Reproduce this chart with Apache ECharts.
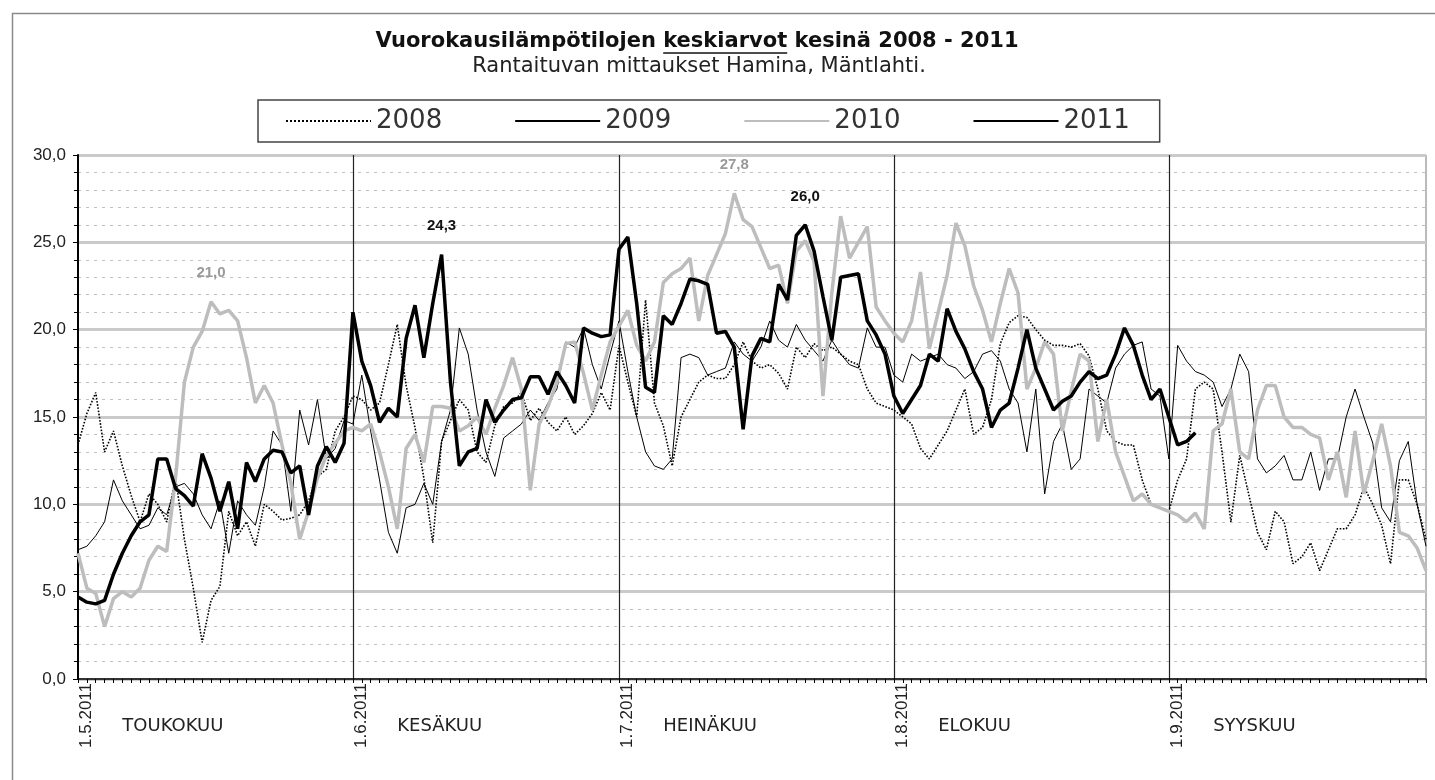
<!DOCTYPE html>
<html>
<head>
<meta charset="utf-8">
<title>Vuorokausilämpötilojen keskiarvot kesinä 2008 - 2011</title>
<script src="https://cdn.jsdelivr.net/npm/echarts@6/dist/echarts.min.js"></script>
<style>
  html, body { margin: 0; padding: 0; background: #fff; }
  #chart { width: 1435px; height: 780px; }
</style>
</head>
<body>
<div id="chart"></div>
<script>
// päivät 1.5. - 30.9. (kategoriat)
var monthNums = [5, 6, 7, 8, 9];
var monthLengths = [31, 30, 31, 31, 30];
var monthNames = ['TOUKOKUU', 'KESÄKUU', 'HEINÄKUU', 'ELOKUU', 'SYYSKUU'];
var yTicks = [0, 5, 10, 15, 20, 25, 30];

// vuorokauden keskilämpötilat, luettu kuvasta
var t2008 = [
  13.4, 15.2, 16.4, 13.0, 14.2, 12.2, 10.5, 9.0, 10.6, 10.0, 9.0, 11.5, 8.0, 5.2, 2.1, 4.5, 5.3, 9.6, 8.2, 9.0, 7.6, 10.0, 9.6, 9.1, 9.2, 9.4, 10.2, 11.6, 12.0, 14.2, 15.0,
  16.2, 16.0, 15.4, 15.8, 18.0, 20.3, 16.8, 14.4, 11.5, 7.8, 13.6, 14.8, 16.0, 15.4, 13.0, 12.4, 14.5, 15.6, 15.8, 16.4, 14.8, 15.5, 14.7, 14.2, 15.0, 14.0, 14.5, 15.2, 16.4, 15.4,
  19.1, 17.0, 15.0, 21.7, 15.8, 14.5, 12.2, 15.0, 16.0, 17.0, 17.4, 17.2, 17.2, 18.0, 19.3, 18.2, 17.8, 18.0, 17.5, 16.6, 19.0, 18.4, 19.2, 18.8, 19.0, 18.6, 18.2, 18.0, 16.6, 15.8, 15.6,
  15.4, 15.0, 14.6, 13.2, 12.6, 13.4, 14.2, 15.4, 16.6, 14.0, 14.4, 16.0, 19.2, 20.4, 20.8, 20.7, 20.0, 19.4, 19.1, 19.1, 19.0, 19.2, 18.5, 16.6, 14.2, 13.6, 13.4, 13.4, 11.4, 10.0, 9.8,
  9.6, 11.4, 12.6, 16.6, 17.0, 16.6, 13.0, 9.0, 12.8, 10.6, 8.4, 7.4, 9.6, 9.0, 6.6, 7.0, 7.8, 6.2, 7.4, 8.6, 8.6, 9.4, 11.0, 10.0, 8.8, 6.6, 11.4, 11.4, 10.0, 8.0
];
var t2009 = [
  7.4, 7.6, 8.2, 9.0, 11.4, 10.2, 9.4, 8.6, 8.8, 9.8, 9.4, 11.0, 11.2, 10.6, 9.4, 8.6, 10.2, 7.2, 10.2, 9.4, 8.8, 11.0, 14.2, 13.4, 9.6, 15.4, 13.4, 16.0, 12.6, 13.2, 14.8,
  14.6, 17.4, 14.2, 11.4, 8.4, 7.2, 9.8, 10.0, 11.2, 10.0, 13.6, 15.4, 20.1, 18.6, 15.4, 13.0, 11.6, 13.8, 14.2, 14.6, 15.4, 14.8, 15.8, 16.6, 19.3, 19.0, 20.1, 18.0, 16.6, 18.6,
  20.5, 17.6, 15.0, 13.0, 12.2, 12.0, 12.6, 18.4, 18.6, 18.4, 17.4, 17.6, 17.8, 19.3, 18.6, 18.2, 19.0, 20.5, 19.4, 19.0, 20.3, 19.4, 18.8, 18.2, 19.4, 18.6, 18.0, 17.8, 20.1, 19.0, 19.0,
  17.4, 17.0, 18.6, 18.2, 18.4, 18.6, 18.0, 17.8, 17.2, 17.6, 18.6, 18.8, 18.2, 16.6, 15.8, 13.0, 16.6, 10.6, 13.6, 14.6, 12.0, 12.6, 16.6, 16.2, 15.8, 17.8, 18.6, 19.1, 19.3, 16.6, 16.2,
  12.6, 19.1, 18.2, 17.6, 17.4, 17.0, 15.6, 16.6, 18.6, 17.6, 12.6, 11.8, 12.2, 12.8, 11.4, 11.4, 13.0, 10.8, 12.6, 12.6, 15.0, 16.6, 15.0, 13.5, 9.8, 9.0, 12.5, 13.6, 10.0, 7.6
];
var t2010 = [
  7.2, 5.2, 4.9, 3.0, 4.6, 5.0, 4.7, 5.2, 6.8, 7.6, 7.3, 11.5, 17.0, 19.0, 19.9, 21.6, 20.9, 21.1, 20.5, 18.4, 15.8, 16.8, 15.8, 13.4, 11.2, 8.0, 9.6, 11.5, 12.8, 13.5, 14.2,
  14.4, 14.2, 14.6, 13.0, 11.0, 8.6, 13.2, 14.0, 12.4, 15.6, 15.6, 15.5, 14.2, 14.5, 15.0, 14.0, 15.5, 16.8, 18.4, 16.6, 10.8, 14.6, 15.6, 17.0, 19.2, 19.3, 17.5, 15.4, 17.4, 19.3,
  20.2, 21.1, 19.1, 18.2, 19.3, 22.7, 23.2, 23.5, 24.1, 20.5, 23.1, 24.3, 25.5, 27.8, 26.3, 25.9, 24.7, 23.5, 23.7, 21.5, 24.5, 25.1, 23.9, 16.2, 22.1, 26.5, 24.1, 25.0, 25.9, 21.3, 20.5,
  19.8, 19.3, 20.5, 23.3, 18.9, 21.0, 23.1, 26.1, 24.8, 22.5, 21.1, 19.3, 21.5, 23.5, 22.1, 16.6, 17.8, 19.3, 18.6, 14.2, 16.5, 18.6, 18.2, 13.6, 16.0, 13.0, 11.6, 10.2, 10.6, 10.0, 9.8,
  9.6, 9.4, 9.0, 9.5, 8.6, 14.2, 14.6, 16.6, 13.0, 12.6, 15.4, 16.8, 16.8, 15.0, 14.4, 14.4, 14.0, 13.8, 11.4, 13.0, 10.4, 14.2, 10.6, 12.5, 14.6, 12.2, 8.4, 8.2, 7.5, 6.2
];
var t2011 = [
  4.7, 4.4, 4.3, 4.5, 6.0, 7.2, 8.2, 9.0, 9.4, 12.6, 12.6, 10.9, 10.5, 9.9, 12.9, 11.5, 9.6, 11.3, 8.6, 12.4, 11.3, 12.6, 13.1, 13.0, 11.8, 12.2, 9.4, 12.2, 13.3, 12.4, 13.5,
  21.0, 18.2, 16.8, 14.7, 15.5, 15.0, 19.5, 21.4, 18.4, 21.5, 24.3, 17.0, 12.2, 13.0, 13.2, 16.0, 14.7, 15.4, 16.0, 16.1, 17.3, 17.3, 16.3, 17.6, 16.8, 15.8, 20.1, 19.8, 19.6, 19.7,
  24.6, 25.3, 21.5, 16.7, 16.4, 20.8, 20.3, 21.5, 22.9, 22.8, 22.6, 19.8, 19.9, 19.0, 14.3, 18.5, 19.5, 19.3, 22.6, 21.7, 25.4, 26.0, 24.5, 21.9, 19.4, 23.0, 23.1, 23.2, 20.5, 19.7, 18.6,
  16.2, 15.2, 16.0, 16.8, 18.6, 18.2, 21.2, 19.9, 18.9, 17.6, 16.6, 14.4, 15.4, 15.8, 17.8, 20.0, 17.8, 16.6, 15.4, 15.9, 16.2, 17.0, 17.6, 17.2, 17.4, 18.6, 20.1, 19.1, 17.4, 16.0, 16.6,
  15.0, 13.4, 13.6, 14.1
];

// merkityt huiput (päivän indeksi) ja niiden tekstit kuvan mukaan
var peaks2010 = [15, 74];
var peakTexts2010 = ['21,0', '27,8'];
var peaks2011 = [41, 82];
var peakTexts2011 = ['24,3', '26,0'];

var days = [];
var monthStartIdx = [];
monthNums.forEach(function (m, k) {
  monthStartIdx.push(days.length);
  for (var d = 1; d <= monthLengths[k]; d++) days.push(d + '.' + m + '.2011');
});
// kuukauden nimi alkaa n. 5 päivää kuun alun jälkeen
var monthLabelIdx = monthStartIdx.map(function (i) { return i + 5; });

function fmt (v) {
  return Number(v).toFixed(1).replace('.', ',');
}

function peakMarks (data, peaks, texts, color) {
  return {
    symbol: 'circle',
    symbolSize: 0,
    silent: true,
    label: {
      show: true,
      position: 'top',
      distance: 21,
      fontSize: 15,
      fontWeight: 'bold',
      color: color
    },
    data: peaks.map(function (i, k) {
      return {
        coord: [days[i], data[i]],
        value: data[i],
        label: { formatter: texts[k] }
      };
    })
  };
}

// otsikko: mitataan tekstit, jotta alleviivaus osuu oikeaan kohtaan
var titleFont = 'bold 21px "DejaVu Sans"';
var titleParts = ['Vuorokausilämpötilojen ', 'keskiarvot', ' kesinä 2008 - 2011'];
var ctx = document.createElement('canvas').getContext('2d');
ctx.font = titleFont;
var widths = titleParts.map(function (s) { return ctx.measureText(s).width; });
var titleW = widths[0] + widths[1] + widths[2];
var titleX = 697 - titleW / 2;
var titleY = 42;

var myChart = echarts.init(document.getElementById('chart'));
myChart.setOption({
  animation: false,
  backgroundColor: '#fff',
  textStyle: { fontFamily: 'Liberation Sans' },
  graphic: [
    { // kehys
      type: 'rect',
      left: 10, top: 11,
      shape: { width: 1440, height: 800 },
      style: { fill: 'none', stroke: '#8a8a8a', lineWidth: 1.5 },
      z: -1
    },
    {
      type: 'text', x: titleX, y: titleY,
      style: { text: titleParts[0], font: titleFont, fill: '#111', verticalAlign: 'middle' }
    },
    {
      type: 'text', x: titleX + widths[0], y: titleY,
      style: { text: titleParts[1], font: titleFont, fill: '#111', verticalAlign: 'middle' }
    },
    {
      type: 'text', x: titleX + widths[0] + widths[1], y: titleY,
      style: { text: titleParts[2], font: titleFont, fill: '#111', verticalAlign: 'middle' }
    },
    {
      type: 'line',
      shape: { x1: titleX + widths[0], y1: titleY + 11, x2: titleX + widths[0] + widths[1], y2: titleY + 11 },
      style: { stroke: '#111', lineWidth: 1.5 }
    },
    {
      type: 'text', x: 699, y: 67,
      style: {
        text: 'Rantaituvan mittaukset Hamina, Mäntlahti.',
        font: '21px "DejaVu Sans"', fill: '#222',
        align: 'center', verticalAlign: 'middle'
      }
    }
  ],
  legend: {
    data: ['2008', '2009', '2010', '2011'],
    left: 258,
    top: 100,
    padding: [6, 30, 6, 27],
    borderColor: '#444',
    borderWidth: 1.5,
    itemWidth: 85,
    itemHeight: 14,
    itemGap: 72,
    itemStyle: { opacity: 0 },
    textStyle: { fontSize: 26, color: '#333', lineHeight: 30, fontFamily: 'DejaVu Sans' }
  },
  grid: {
    left: 78,
    right: 9,
    top: 155,
    bottom: 101,
    show: true,
    borderColor: '#777',
    borderWidth: 1
  },
  xAxis: [
    {
      type: 'category',
      data: days,
      boundaryGap: false,
      axisLine: { lineStyle: { color: '#000', width: 1.5 } },
      axisTick: { show: true, interval: 0, length: 4, lineStyle: { color: '#000' } },
      axisLabel: {
        interval: function (i) { return monthStartIdx.indexOf(i) >= 0; },
        rotate: 90,
        verticalAlign: 'top',
        fontSize: 17,
        color: '#222',
        margin: 4
      },
      splitLine: {
        show: true,
        interval: function (i) { return i > 0 && monthStartIdx.indexOf(i) >= 0; },
        lineStyle: { color: '#222', width: 1.2 }
      }
    },
    {
      type: 'category',
      data: days,
      boundaryGap: false,
      position: 'bottom',
      axisLine: { show: false },
      axisTick: { show: false },
      splitLine: { show: false },
      axisLabel: {
        interval: function (i) { return monthLabelIdx.indexOf(i) >= 0; },
        formatter: function (v, i) { return monthNames[monthLabelIdx.indexOf(i)]; },
        align: 'left',
        margin: 38,
        fontSize: 18,
        fontFamily: 'DejaVu Sans',
        color: '#222'
      }
    }
  ],
  yAxis: {
    type: 'value',
    min: yTicks[0],
    max: yTicks[yTicks.length - 1],
    interval: yTicks[1] - yTicks[0],
    axisLine: { show: true, lineStyle: { color: '#000', width: 2 } },
    axisTick: { show: true, length: 5, lineStyle: { color: '#000' } },
    minorTick: { show: true, splitNumber: 5, length: 4, lineStyle: { color: '#000' } },
    axisLabel: { formatter: fmt, fontSize: 17, color: '#222', margin: 12 },
    splitLine: { lineStyle: { color: '#cacaca', width: 3 } },
    minorSplitLine: { show: true, lineStyle: { color: '#c0c0c0', type: [3, 5], width: 1 } }
  },
  series: [
    {
      name: '2008', type: 'line', data: t2008, symbol: 'none',
      lineStyle: { color: '#000', width: 1.6, type: 'dotted' },
      itemStyle: { color: '#000' }
    },
    {
      name: '2009', type: 'line', data: t2009, symbol: 'none',
      lineStyle: { color: '#000', width: 1 },
      itemStyle: { color: '#000' }
    },
    {
      name: '2010', type: 'line', data: t2010, symbol: 'none',
      lineStyle: { color: '#bdbdbd', width: 3.5 },
      itemStyle: { color: '#bdbdbd' },
      markPoint: peakMarks(t2010, peaks2010, peakTexts2010, '#9a9a9a')
    },
    {
      name: '2011', type: 'line', data: t2011, symbol: 'none',
      lineStyle: { color: '#000', width: 3.5 },
      itemStyle: { color: '#000' },
      markPoint: peakMarks(t2011, peaks2011, peakTexts2011, '#111')
    }
  ]
});
</script>
</body>
</html>
